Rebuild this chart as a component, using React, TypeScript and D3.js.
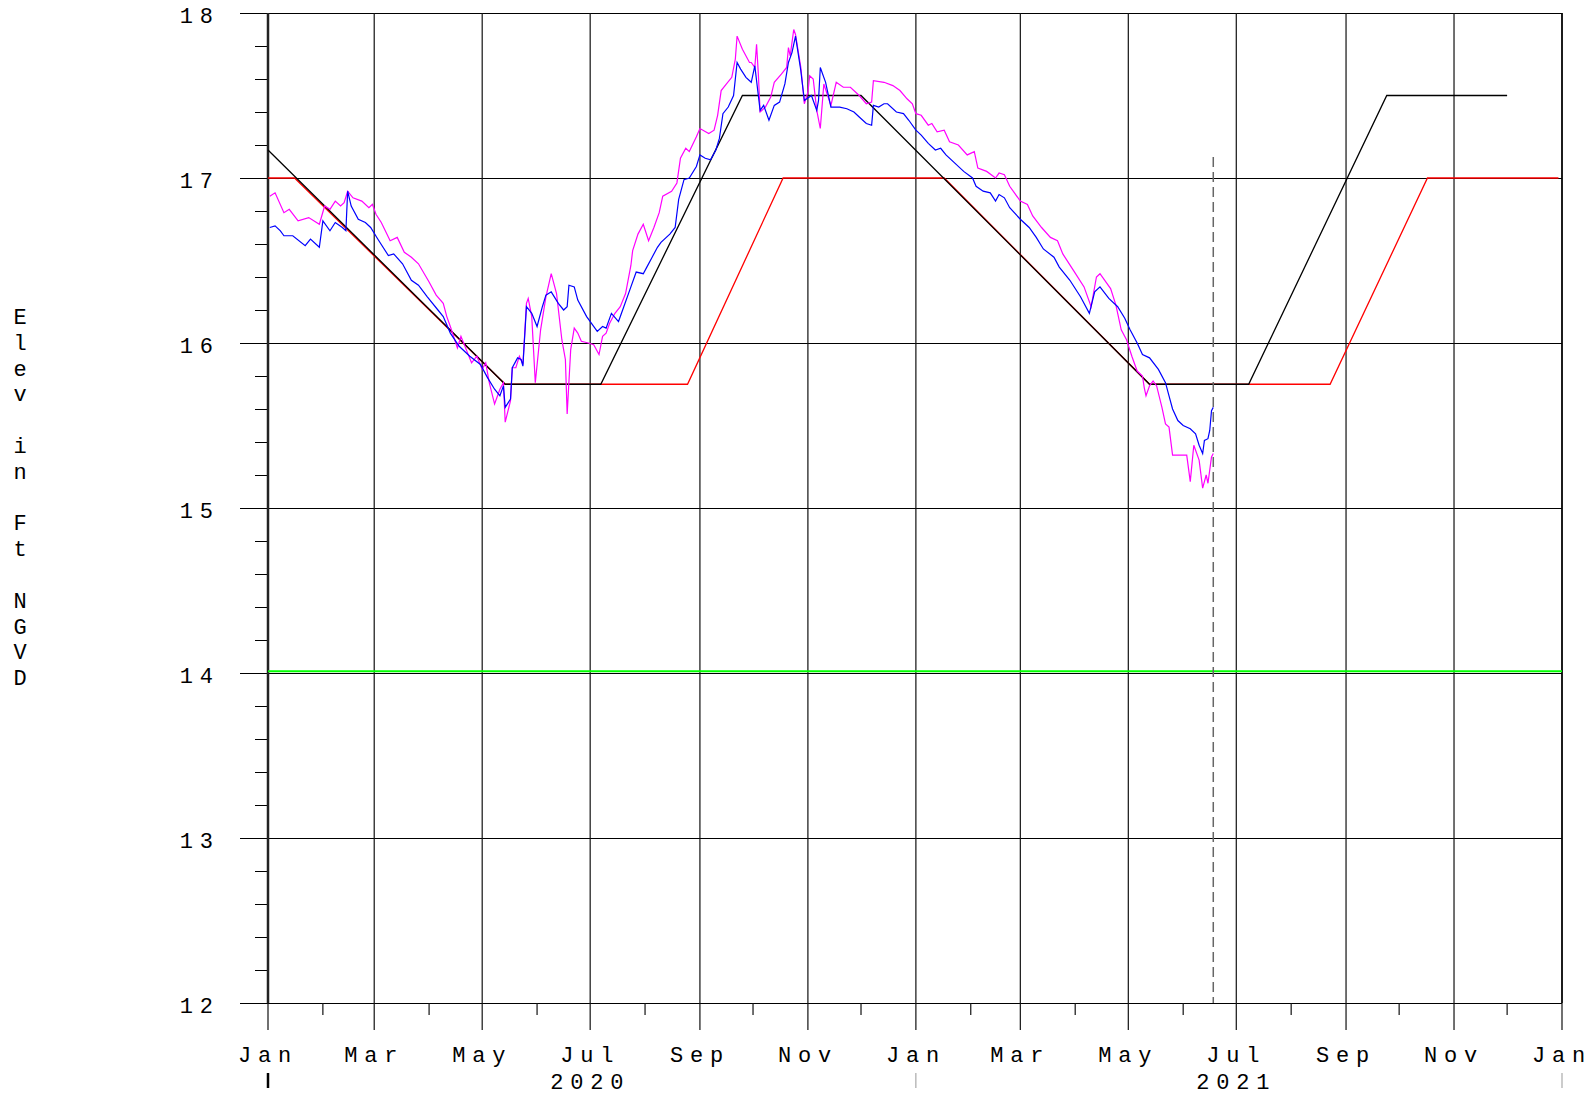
import React from "react";
import * as d3 from "d3";

// days counted from 2020-01-01, value in ft NGVD
const stageA: [number, number][] = [
  [1, 16.7], [4, 16.71], [7, 16.68], [9, 16.65], [14, 16.65], [21, 16.59], [24, 16.63], [29, 16.58],
  [31, 16.74], [35, 16.68], [38, 16.73], [42, 16.7], [44, 16.68], [45, 16.92], [47, 16.83], [51, 16.75],
  [55, 16.73], [58, 16.7], [62, 16.63], [68, 16.53], [71, 16.54], [76, 16.48], [81, 16.38], [85, 16.35],
  [90, 16.28], [96, 16.2], [99, 16.16], [103, 16.06], [108, 15.98], [114, 15.92], [120, 15.87], [124, 15.79],
  [128, 15.72], [131, 15.68], [133, 15.74], [134, 15.61], [137, 15.66], [138, 15.85], [141, 15.91], [143, 15.9],
  [144, 15.86], [146, 16.22], [149, 16.18], [152, 16.1], [155, 16.22], [157, 16.29], [160, 16.31], [164, 16.24],
  [167, 16.2], [169, 16.22], [170, 16.35], [173, 16.34], [175, 16.26], [180, 16.16], [186, 16.07], [189, 16.1],
  [191, 16.09], [194, 16.18], [198, 16.13], [201, 16.22], [205, 16.34], [208, 16.43], [212, 16.42], [214, 16.46],
  [217, 16.52], [220, 16.58], [222, 16.61], [227, 16.66], [230, 16.7], [232, 16.87], [235, 16.99], [238, 17.0],
  [242, 17.07], [244, 17.14], [247, 17.12], [250, 17.11], [253, 17.17], [255, 17.24], [257, 17.39], [260, 17.43],
  [263, 17.5], [265, 17.7], [267, 17.66], [270, 17.61], [273, 17.58], [275, 17.68], [278, 17.41], [280, 17.44],
  [283, 17.35], [286, 17.44], [289, 17.46], [292, 17.57], [294, 17.7], [296, 17.76], [298, 17.86], [301, 17.65],
  [303, 17.47], [307, 17.5], [310, 17.41], [311, 17.47], [312, 17.67], [315, 17.58], [318, 17.43], [323, 17.43],
  [327, 17.42], [331, 17.4], [334, 17.37], [338, 17.33], [341, 17.32], [342, 17.44], [345, 17.43], [348, 17.45],
  [350, 17.45], [355, 17.4], [359, 17.39], [362, 17.35], [366, 17.29], [369, 17.26], [373, 17.21], [377, 17.17],
  [380, 17.18], [383, 17.14], [388, 17.09], [393, 17.04], [398, 17.0], [400, 16.95], [404, 16.92], [408, 16.91],
  [411, 16.86], [413, 16.9], [416, 16.88], [419, 16.82], [425, 16.75], [430, 16.7], [434, 16.64], [438, 16.57],
  [444, 16.52], [447, 16.46], [453, 16.38], [459, 16.28], [464, 16.18], [467, 16.31], [470, 16.34], [475, 16.27],
  [480, 16.22], [484, 16.15], [487, 16.08], [491, 16.0], [494, 15.93], [498, 15.91], [503, 15.84], [507, 15.76],
  [509, 15.68], [511, 15.6], [514, 15.53], [517, 15.5], [521, 15.48], [524, 15.45], [526, 15.38], [528, 15.33],
  [529, 15.41], [531, 15.42], [532, 15.47], [533, 15.59], [534, 15.61],
];

const stageB: [number, number][] = [
  [1, 16.89], [4, 16.91], [9, 16.79], [12, 16.81], [17, 16.74], [23, 16.76], [29, 16.72], [32, 16.83],
  [35, 16.81], [38, 16.86], [41, 16.83], [43, 16.85], [45, 16.92], [48, 16.88], [53, 16.86], [57, 16.82],
  [59, 16.84], [61, 16.78], [64, 16.73], [69, 16.62], [73, 16.64], [77, 16.55], [81, 16.52], [85, 16.48],
  [91, 16.37], [95, 16.29], [99, 16.24], [101, 16.16], [103, 16.1], [107, 15.97], [109, 16.04], [112, 15.96],
  [115, 15.88], [118, 15.92], [121, 15.84], [123, 15.88], [125, 15.76], [128, 15.63], [131, 15.72], [133, 15.76],
  [134, 15.52], [137, 15.65], [138, 15.85], [140, 15.85], [142, 15.92], [144, 15.87], [146, 16.24], [147, 16.27],
  [149, 16.16], [151, 15.76], [154, 16.08], [157, 16.28], [160, 16.42], [163, 16.3], [166, 16.02], [168, 15.9],
  [169, 15.57], [171, 15.96], [173, 16.09], [175, 16.06], [177, 16.01], [181, 16.0], [184, 15.99], [187, 15.93],
  [189, 16.04], [191, 16.06], [193, 16.12], [196, 16.18], [199, 16.22], [202, 16.3], [205, 16.47], [206, 16.56],
  [209, 16.66], [212, 16.72], [215, 16.62], [218, 16.7], [221, 16.79], [223, 16.89], [228, 16.92], [231, 16.97],
  [233, 17.12], [236, 17.18], [238, 17.16], [242, 17.25], [244, 17.3], [249, 17.27], [252, 17.29], [254, 17.38],
  [256, 17.53], [259, 17.57], [262, 17.61], [264, 17.72], [265, 17.86], [268, 17.78], [272, 17.7], [273, 17.7],
  [275, 17.67], [276, 17.81], [277, 17.63], [278, 17.4], [281, 17.43], [284, 17.49], [286, 17.58], [290, 17.63],
  [293, 17.67], [294, 17.79], [295, 17.74], [297, 17.9], [298, 17.87], [301, 17.67], [303, 17.45], [305, 17.52],
  [306, 17.62], [308, 17.6], [310, 17.41], [312, 17.3], [314, 17.57], [318, 17.44], [321, 17.58], [325, 17.55],
  [329, 17.55], [334, 17.5], [338, 17.45], [341, 17.46], [342, 17.59], [348, 17.58], [353, 17.56], [357, 17.53],
  [361, 17.48], [364, 17.45], [366, 17.39], [369, 17.38], [373, 17.32], [375, 17.33], [378, 17.28], [382, 17.29],
  [385, 17.22], [390, 17.2], [395, 17.14], [399, 17.16], [401, 17.06], [406, 17.04], [411, 17.0], [413, 17.03],
  [416, 17.02], [419, 16.95], [425, 16.86], [429, 16.84], [432, 16.77], [437, 16.7], [442, 16.64], [446, 16.62],
  [449, 16.54], [455, 16.44], [461, 16.34], [465, 16.22], [468, 16.4], [470, 16.42], [476, 16.33], [479, 16.23],
  [482, 16.08], [485, 16.02], [488, 15.92], [491, 15.83], [494, 15.8], [495, 15.73], [496, 15.68], [498, 15.74],
  [500, 15.77], [502, 15.74], [505, 15.61], [507, 15.51], [509, 15.49], [511, 15.32], [514, 15.32], [519, 15.32],
  [521, 15.16], [523, 15.38], [526, 15.29], [528, 15.12], [530, 15.2], [531, 15.15], [533, 15.31], [534, 15.33],
];

const scheduleUpper: [number, number][] = [
  [0, 17.17], [134, 15.75], [188, 15.75], [268, 17.5], [335, 17.5], [498, 15.75], [554, 15.75], [632, 17.5], [700, 17.5],
];

const scheduleLower: [number, number][] = [
  [0, 17.0], [15, 17.0], [134, 15.75], [237, 15.75], [291, 17.0], [382, 17.0], [498, 15.75], [600, 15.75], [655, 17.0], [729, 17.0],
];

const floorLine: [number, number][] = [[0, 14.01], [731, 14.01]];

const yearLabels = ["2020", "2021"];
const yTitle = "Elev in Ft NGVD";
const todayDay = 534;

const W = 1591;
const H = 1096;
const margin = { left: 268, top: 13, right: 1562, bottom: 1003 };
const FONT = "'Liberation Mono', 'Courier New', monospace";
const FS = 22;
const LS = 6.8;

const t0 = new Date(2020, 0, 1);
const toDate = (d: number) => d3.timeDay.offset(t0, d);

export default function App() {
  const x = d3.scaleTime().domain([t0, new Date(2022, 0, 1)]).range([margin.left, margin.right]);
  const y = d3.scaleLinear().domain([12, 18]).range([margin.bottom, margin.top]);

  const line = d3
    .line<[number, number]>()
    .x((d) => x(toDate(d[0])))
    .y((d) => y(d[1]));

  const months = d3.timeMonth.range(t0, new Date(2022, 0, 2));
  const majors = y.ticks(6);
  const minors = d3.range(12, 18.001, 0.2).filter((v) => Math.abs(v - Math.round(v)) > 0.01);
  const fmt = d3.timeFormat("%b");
  const xt = x(toDate(todayDay));

  return (
    <svg width={W} height={H} style={{ position: "absolute", left: 0, top: 0, background: "#fff" }}>
      {/* horizontal grid + major y ticks */}
      {majors.map((v) => (
        <g key={"h" + v}>
          <line
            x1={240}
            x2={margin.right}
            y1={y(v) + 0.5}
            y2={y(v) + 0.5}
            stroke="#000"
            strokeWidth={1}
            shapeRendering="crispEdges"
          />
          <text
            x={213 + LS}
            y={y(v) + 10}
            textAnchor="end"
            fontFamily={FONT}
            fontSize={FS}
            style={{ letterSpacing: LS }}
            fill="#000"
          >
            {String(v)}
          </text>
        </g>
      ))}
      {minors.map((v) => (
        <line
          key={"m" + v}
          x1={255}
          x2={margin.left}
          y1={y(v)}
          y2={y(v)}
          stroke="#000"
          strokeWidth={1}
          shapeRendering="crispEdges"
        />
      ))}

      {/* vertical grid + month ticks */}
      {months.map((m) => {
        const major = m.getMonth() % 2 === 0;
        const xx = x(m);
        return (
          <g key={m.toISOString()}>
            {major ? (
              <line x1={xx} x2={xx} y1={margin.top} y2={1030} stroke="#111" strokeWidth={1.2} />
            ) : (
              <line x1={xx} x2={xx} y1={margin.bottom} y2={1015} stroke="#111" strokeWidth={1.2} />
            )}
            {major && (
              <text x={xx} y={1062} textAnchor="middle" fontFamily={FONT} fontSize={FS} style={{ letterSpacing: LS }}>
                {fmt(m)}
              </text>
            )}
            {m.getMonth() === 0 && (
              <line
                x1={xx}
                x2={xx}
                y1={1073}
                y2={1088}
                stroke={m.getFullYear() === 2020 ? "#000" : "#999"}
                strokeWidth={m.getFullYear() === 2020 ? 2.5 : 1}
              />
            )}
          </g>
        );
      })}
      {yearLabels.map((yr) => (
        <text
          key={yr}
          x={x(new Date(+yr, 6, 1))}
          y={1089}
          textAnchor="middle"
          fontFamily={FONT}
          fontSize={FS}
          style={{ letterSpacing: LS }}
        >
          {yr}
        </text>
      ))}

      {/* frame */}
      <line x1={margin.left} x2={margin.left} y1={margin.top} y2={margin.bottom} stroke="#222" strokeWidth={2.5} />
      <line x1={margin.right} x2={margin.right} y1={margin.top} y2={margin.bottom} stroke="#000" strokeWidth={1.5} />

      {/* data */}
      <path d={line(floorLine) || ""} fill="none" stroke="#00ff00" strokeWidth={2} />
      <path d={line(scheduleLower) || ""} fill="none" stroke="#ff0000" strokeWidth={1.3} />
      <path d={line(scheduleUpper) || ""} fill="none" stroke="#000" strokeWidth={1.3} />
      <path d={line(stageB) || ""} fill="none" stroke="#ff00ff" strokeWidth={1.2} />
      <path d={line(stageA) || ""} fill="none" stroke="#0000ff" strokeWidth={1.2} />

      {/* current date marker */}
      <line x1={xt} x2={xt} y1={157} y2={margin.bottom} stroke="#666" strokeWidth={1.5} strokeDasharray="10,5" />

      {/* y title, one letter per row */}
      {yTitle.split("").map((c, i) => (
        <text key={i} x={20} y={324 + i * 25.8} textAnchor="middle" fontFamily={FONT} fontSize={FS}>
          {c}
        </text>
      ))}
    </svg>
  );
}
